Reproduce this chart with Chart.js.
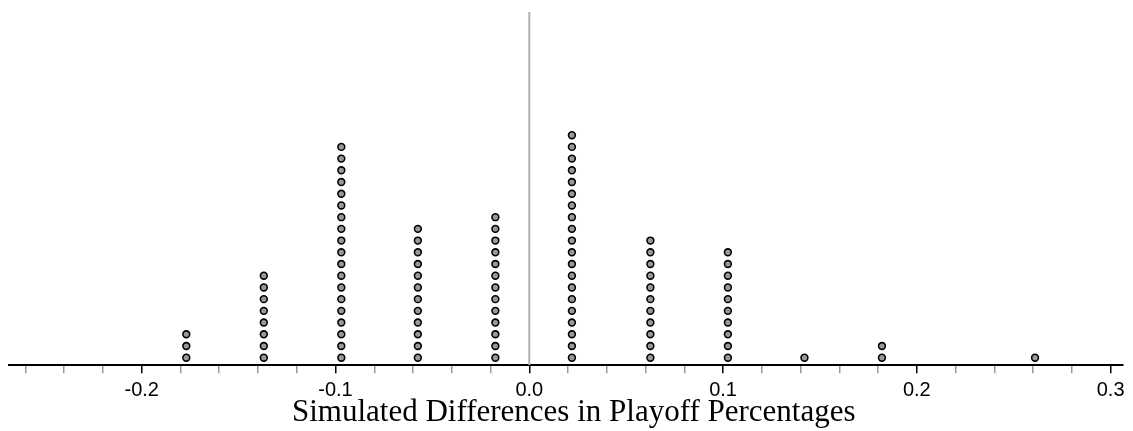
<!DOCTYPE html>
<html>
<head>
<meta charset="utf-8">
<script src="https://cdn.jsdelivr.net/npm/chart.js@4"></script>
<style>
  html, body { margin: 0; padding: 0; background: #fff; }
  canvas { display: block; }
</style>
</head>
<body>
<canvas id="dot-chart" width="1133" height="431"></canvas>
<script>
// column centres on the x axis and how many dots are stacked in each
const positions = [-0.177, -0.137, -0.097, -0.0575, -0.0175, 0.022, 0.0625, 0.1025, 0.142, 0.182, 0.261];
const counts = [3, 8, 19, 12, 13, 20, 11, 10, 1, 2, 1];
const xLabels = ['-0.2', '-0.1', '0.0', '0.1', '0.2', '0.3'];

const xMin = -0.2685, xMax = 0.3064;
const yMin = 0.35, yMax = 30.52;

(function () {

    // one point per dot, stacked 1..n above each position
    const dots = [];
    positions.forEach(function (x, i) {
        for (let k = 1; k <= counts[i]; k++) {
            dots.push({x: x, y: k});
        }
    });

    function isMajor(v) {
        return Math.abs(v * 10 - Math.round(v * 10)) < 1e-6;
    }

    new Chart(document.getElementById('dot-chart'), {
        type: 'scatter',
        data: {
            datasets: [
                {
                    // zero reference line
                    type: 'line',
                    data: [{x: 0, y: yMin}, {x: 0, y: yMax}],
                    borderColor: '#b0b0b0',
                    borderWidth: 2,
                    pointRadius: 0,
                    order: 2
                },
                {
                    data: dots,
                    backgroundColor: '#999999',
                    borderColor: '#000000',
                    borderWidth: 1.6,
                    pointRadius: 3.4,
                    order: 1
                }
            ]
        },
        options: {
            responsive: false,
            animation: false,
            layout: {padding: {left: 9, right: 10, top: 12, bottom: 0}},
            plugins: {
                legend: {display: false},
                tooltip: {enabled: false}
            },
            scales: {
                x: {
                    type: 'linear',
                    min: xMin,
                    max: xMax,
                    // fixed axis band so the baseline sits where the original's does
                    afterFit: function (scale) {
                        scale.height = 65.7;
                    },
                    border: {display: true, color: '#000', width: 2},
                    grid: {
                        drawOnChartArea: false,
                        drawTicks: true,
                        tickLength: 8,
                        lineWidth: 1.5,
                        tickColor: function (ctx) {
                            return ctx.tick && isMajor(ctx.tick.value) ? '#000' : '#999';
                        }
                    },
                    ticks: {
                        stepSize: 0.02,
                        includeBounds: false,
                        autoSkip: false,
                        maxRotation: 0,
                        padding: 5,
                        color: '#000',
                        font: {family: 'Liberation Sans', size: 20, lineHeight: 1.2},
                        callback: function (v) {
                            if (!isMajor(v)) return '';
                            const idx = Math.round(v * 10) + 2;
                            return xLabels[idx] !== undefined ? xLabels[idx] : '';
                        }
                    },
                    title: {
                        display: true,
                        text: '\u2002Simulated Differences in Playoff Percentages',
                        color: '#000',
                        font: {family: 'Liberation Serif', size: 31, lineHeight: 1.2},
                        padding: {top: 0, bottom: 0}
                    }
                },
                y: {
                    display: false,
                    min: yMin,
                    max: yMax
                }
            }
        }
    });

})();
</script>
</body>
</html>
